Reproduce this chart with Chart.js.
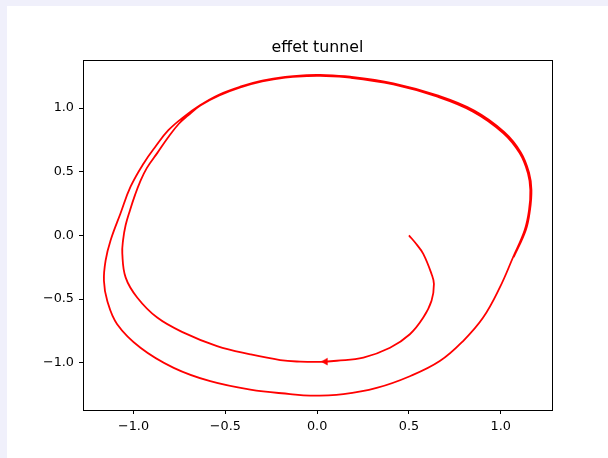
<!DOCTYPE html>
<html>
<head>
<meta charset="utf-8">
<script src="https://cdn.jsdelivr.net/npm/chart.js@4/dist/chart.umd.min.js"></script>
<style>
  html, body { margin: 0; padding: 0; background: #f0f0fb; width: 608px; height: 458px; overflow: hidden; }
  #wrap { position: absolute; left: 7px; top: 6px; width: 601px; height: 452px; background: #ffffff; }
  canvas { display: block; }
</style>
</head>
<body>
<div id="wrap"><canvas id="c" width="601" height="452"></canvas></div>
<script>
const chartTitle = "effet tunnel";

// trajectory, in drawing order:
// inner spiral, then one turn of the outer cycle, then a second pass over its top/right part
const pathX = [
  0.500, 0.540, 0.578, 0.623, 0.636, 0.623, 0.578, 0.505, 0.397, 0.252,
  0.107, 0.016, -0.092, -0.201, -0.364, -0.545, -0.727, -0.871, -0.980, -1.043,
  -1.061, -1.057, -1.043, -1.019, -0.992, -0.967, -0.927, -0.870, -0.813, -0.753,
  -0.704, -0.636,
  -0.533, -0.418, -0.299, -0.174, -0.056, 0.016, 0.179, 0.415, 0.651, 0.849,
  1.013, 1.103, 1.148, 1.161, 1.154, 1.130, 1.067, 0.995, 0.904, 0.795,
  0.668, 0.505, 0.324, 0.143, -0.038, -0.147, -0.364, -0.582, -0.781, -0.962,
  -1.089, -1.143, -1.161, -1.152, -1.125, -1.071, -1.016, -0.944, -0.880, -0.810,
  -0.728, -0.638,
  -0.535, -0.419, -0.299, -0.174, -0.056, 0.016, 0.179, 0.415, 0.655, 0.855,
  1.018, 1.109, 1.154, 1.167, 1.159, 1.136, 1.070
];
const pathY = [
  0.000, -0.068, -0.145, -0.303, -0.382, -0.514, -0.646, -0.777, -0.883, -0.960,
  -0.985, -0.994, -0.992, -0.980, -0.935, -0.870, -0.764, -0.646, -0.488, -0.330,
  -0.142, -0.040, 0.079, 0.198, 0.316, 0.411, 0.530, 0.648, 0.767, 0.877,
  0.941, 1.020,
  1.099, 1.162, 1.209, 1.239, 1.251, 1.253, 1.239, 1.186, 1.091, 0.972,
  0.804, 0.646, 0.488, 0.356, 0.198, 0.040, -0.172, -0.409, -0.646, -0.830,
  -0.988, -1.107, -1.199, -1.247, -1.259, -1.247, -1.212, -1.146, -1.041, -0.883,
  -0.698, -0.514, -0.356, -0.198, -0.040, 0.172, 0.382, 0.567, 0.698, 0.826,
  0.929, 1.022,
  1.105, 1.168, 1.215, 1.245, 1.258, 1.260, 1.246, 1.194, 1.099, 0.980,
  0.812, 0.652, 0.492, 0.356, 0.198, 0.040, -0.172
];

// arrow head marker
const arrowX = [0.045];
const arrowY = [-0.992];

// axis ticks and limits
const xTicks = [-1.0, -0.5, 0.0, 0.5, 1.0];
const yTicks = [-1.0, -0.5, 0.0, 0.5, 1.0];
const xLimits = [-1.275, 1.279];
const yLimits = [-1.372, 1.378];

const pathPoints = pathX.map((x, i) => ({ x: x, y: pathY[i] }));
const arrowPoints = arrowX.map((x, i) => ({ x: x, y: arrowY[i] }));

function fmt(v) {
  const s = Math.abs(v).toFixed(1);
  return (v < 0 ? '\u2212' : '') + s;
}

const framePlugin = {
  id: 'frame',
  afterDraw(chart) {
    const a = chart.chartArea;
    const ctx = chart.ctx;
    ctx.save();
    ctx.strokeStyle = '#000000';
    ctx.lineWidth = 1;
    ctx.strokeRect(Math.round(a.left) + 0.5, Math.round(a.top) + 0.5,
                   Math.round(a.right - a.left), Math.round(a.bottom - a.top));
    ctx.restore();
  }
};

const tickFont = { family: "'DejaVu Sans', sans-serif", size: 12.8 };

new Chart(document.getElementById('c'), {
  type: 'line',
  data: {
    datasets: [
      {
        data: pathPoints,
        fill: false,
        borderColor: '#ff0000',
        backgroundColor: '#ff0000',
        borderWidth: 1.8,
        pointRadius: 0,
        pointHoverRadius: 0,
        tension: 0.4,
        order: 2
      },
      {
        data: arrowPoints,
        showLine: false,
        fill: false,
        pointStyle: 'triangle',
        rotation: -90,
        pointRadius: 4,
        pointBackgroundColor: '#ff0000',
        pointBorderColor: '#ff0000',
        pointBorderWidth: 0.5,
        order: 1
      }
    ]
  },
  options: {
    responsive: false,
    animation: false,
    devicePixelRatio: 1,
    layout: { padding: { left: 0, right: 56, top: 0, bottom: 0 } },
    plugins: {
      legend: { display: false },
      tooltip: { enabled: false },
      title: {
        display: true,
        text: chartTitle,
        fullSize: false,
        color: '#000000',
        font: { family: "'DejaVu Sans', sans-serif", size: 15.8, weight: 'normal', lineHeight: 1.2 },
        padding: { top: 32, bottom: 3 }
      }
    },
    scales: {
      x: {
        type: 'linear',
        position: 'bottom',
        min: xLimits[0],
        max: xLimits[1],
        afterBuildTicks(scale) { scale.ticks = xTicks.map(v => ({ value: v })); },
        afterFit(scale) { scale.height = 48; },
        ticks: {
          callback: (v) => fmt(v),
          color: '#000000',
          font: tickFont,
          padding: 5,
          maxRotation: 0,
          autoSkip: false
        },
        grid: { display: true, drawOnChartArea: false, drawTicks: true, tickLength: 4, tickColor: '#000000', tickWidth: 1 },
        border: { display: false }
      },
      y: {
        type: 'linear',
        position: 'left',
        min: yLimits[0],
        max: yLimits[1],
        afterBuildTicks(scale) { scale.ticks = yTicks.map(v => ({ value: v })); },
        afterFit(scale) { scale.width = 76; },
        ticks: {
          callback: (v) => fmt(v),
          color: '#000000',
          font: tickFont,
          padding: 5,
          autoSkip: false
        },
        grid: { display: true, drawOnChartArea: false, drawTicks: true, tickLength: 4, tickColor: '#000000', tickWidth: 1 },
        border: { display: false }
      }
    }
  },
  plugins: [framePlugin]
});
</script>
</body>
</html>
